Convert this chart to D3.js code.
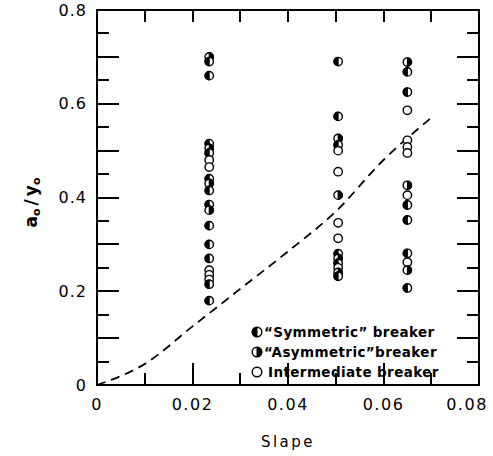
<!DOCTYPE html>
<html>
<head>
<meta charset="utf-8">
<script src="https://cdn.jsdelivr.net/npm/d3@7"></script>
<style>
  html, body { margin: 0; padding: 0; background: #fff; }
  #wrap { position: relative; width: 493px; height: 456px; }
  svg { display: block; position: absolute; left: 0; top: 0; }
  .hline, .vline, .box { position: absolute; background: #000; }
  .box { background: transparent; border: 2px solid #000; box-sizing: border-box; }
  text { font-family: "DejaVu Sans", sans-serif; fill: #000; }
</style>
</head>
<body>
<div id="wrap"><svg id="chart" width="493" height="456"></svg></div>
<script>
// Breaker observations at three beach slopes
const slopes = [0.0235, 0.0505, 0.065];

const slope1Values = [0.700, 0.690, 0.660, 0.515, 0.505, 0.495, 0.480, 0.465, 0.440, 0.430, 0.415,
                      0.385, 0.373, 0.340, 0.300, 0.270, 0.245, 0.235, 0.225, 0.215, 0.180];
const slope1Types  = ["A", "S", "S", "S", "A", "S", "O", "O", "S", "A", "S",
                      "S", "A", "S", "S", "S", "O", "O", "O", "S", "S"];

const slope2Values = [0.690, 0.573, 0.526, 0.512, 0.500, 0.455, 0.405, 0.346, 0.313,
                      0.280, 0.270, 0.260, 0.250, 0.240, 0.232];
const slope2Types  = ["S", "S", "A", "S", "O", "O", "A", "O", "O",
                      "S", "A", "S", "O", "A", "S"];

const slope3Values = [0.689, 0.668, 0.625, 0.586, 0.522, 0.508, 0.495, 0.426, 0.405,
                      0.384, 0.352, 0.281, 0.262, 0.245, 0.207];
const slope3Types  = ["A", "S", "S", "O", "O", "O", "O", "A", "O",
                      "S", "S", "S", "O", "A", "S"];

// Dividing curve (dashed)
const curveX = [0, 0.01, 0.02, 0.03, 0.04, 0.05, 0.06, 0.07];
const curveY = [0, 0.045, 0.125, 0.205, 0.285, 0.37, 0.48, 0.57];

// Axis labels and ticks
const xLabelTicks = [0, 0.02, 0.04, 0.06, 0.08];
const yLabelTicks = [0, 0.2, 0.4, 0.6, 0.8];
const xMarkTicks = [0.01, 0.02, 0.03, 0.04, 0.05, 0.06, 0.07];
const yMarkTicks = [0.05, 0.1, 0.15, 0.2, 0.25, 0.3, 0.35, 0.4, 0.45, 0.5, 0.55, 0.6, 0.65, 0.7, 0.75];

const legendLabels = ["\u201CSymmetric\u201D breaker", "\u201CAsymmetric\u201Dbreaker", "Intermediate breaker"];
const legendTypes = ["S", "A", "O"];

const svg = d3.select("#chart");
const wrap = d3.select("#wrap");
const W = 493;
const plotLeft = 97, plotRight = 479, plotTop = 10, plotBottom = 385;

const x = d3.scaleLinear().domain([0, 0.08]).range([plotLeft, plotRight]);
const y = d3.scaleLinear().domain([0, 0.8]).range([plotBottom, plotTop]);

const LONG = 22, SHORT = 12;
const isLongY = v => Math.round(v * 100) % 10 === 0;
const isLongX = v => Math.round(v * 100) % 2 === 0;

// Frame (HTML box laid under the SVG)
wrap.insert("div", "svg").attr("class", "box")
  .style("left", (plotLeft - 1) + "px").style("top", (plotTop - 1) + "px")
  .style("width", (plotRight - plotLeft + 2) + "px").style("height", (plotBottom - plotTop + 2) + "px");

// Inward tick marks on all four sides
yMarkTicks.forEach(d => {
  const len = isLongY(d) ? LONG : SHORT;
  const ty = Math.round(y(d)) - 1;
  wrap.insert("div", "svg").attr("class", "hline")
    .style("left", plotLeft + "px").style("top", ty + "px")
    .style("width", len + "px").style("height", "2px");
  wrap.insert("div", "svg").attr("class", "hline")
    .style("left", (plotRight - len) + "px").style("top", ty + "px")
    .style("width", len + "px").style("height", "2px");
});
xMarkTicks.forEach(d => {
  const len = isLongX(d) ? LONG : SHORT;
  const tx = Math.round(x(d)) - 1;
  wrap.insert("div", "svg").attr("class", "vline")
    .style("left", tx + "px").style("top", (plotBottom - len) + "px")
    .style("width", "2px").style("height", len + "px");
  wrap.insert("div", "svg").attr("class", "vline")
    .style("left", tx + "px").style("top", plotTop + "px")
    .style("width", "2px").style("height", SHORT + "px");
});

// Tick labels
const fmt = v => v === 0 ? "0" : d3.format(".2f")(v);
const yAxisLabels = svg.append("g").attr("transform", `translate(${plotLeft},0)`)
  .call(d3.axisLeft(y).tickValues(yLabelTicks)
    .tickFormat(v => v === 0 ? "0" : d3.format(".1f")(v)).tickSize(0).tickPadding(10));
yAxisLabels.select(".domain").remove();
yAxisLabels.selectAll("text")
  .attr("font-size", 16).attr("font-family", "DejaVu Sans, sans-serif")
  .attr("letter-spacing", 1).attr("fill", "#000");

const xAxisLabels = svg.append("g").attr("transform", `translate(0,${plotBottom})`)
  .call(d3.axisBottom(x).tickValues(xLabelTicks).tickFormat(fmt).tickSize(0).tickPadding(14));
xAxisLabels.select(".domain").remove();
xAxisLabels.selectAll("text")
  .attr("font-size", 16).attr("font-family", "DejaVu Sans, sans-serif")
  .attr("letter-spacing", 1.5).attr("fill", "#000");
// keep the last label inside the page
xAxisLabels.selectAll(".tick").attr("transform", d => `translate(${Math.min(x(d), W - 26)},0)`);

// Axis titles
svg.append("text")
  .attr("x", (plotLeft + plotRight) / 2).attr("y", 447)
  .attr("text-anchor", "middle")
  .attr("font-size", 15).attr("letter-spacing", 2.5)
  .text("Slape");

const yTitle = svg.append("text")
  .attr("transform", `translate(37,${(plotTop + plotBottom) / 2 + 5}) rotate(-90)`)
  .attr("text-anchor", "middle")
  .attr("font-size", 17).attr("font-weight", 600);
yTitle.append("tspan").text("a");
yTitle.append("tspan").attr("font-size", 11).attr("dy", 3).text("o");
yTitle.append("tspan").attr("dy", -3).attr("dx", 3).text("/");
yTitle.append("tspan").attr("dx", 3).text("y");
yTitle.append("tspan").attr("font-size", 11).attr("dy", 3).text("o");

// Dashed dividing curve
const curve = curveX.map((v, i) => [v, curveY[i]]);
svg.append("path")
  .datum(curve)
  .attr("fill", "none").attr("stroke", "#000").attr("stroke-width", 1.8)
  .attr("stroke-dasharray", "9,6")
  .attr("d", d3.line().x(d => x(d[0])).y(d => y(d[1])).curve(d3.curveMonotoneX));

// Marker drawing: open circle, left-filled (symmetric), right-filled (asymmetric)
function drawMarker(g, cx, cy, type, r) {
  g.append("circle").attr("cx", cx).attr("cy", cy).attr("r", r)
    .attr("fill", "#fff").attr("stroke", "#000").attr("stroke-width", 1.4);
  if (type === "S" || type === "A") {
    const sweep = type === "S" ? 0 : 1;
    g.append("path")
      .attr("d", `M${cx},${cy - r} A${r},${r} 0 0 ${sweep} ${cx},${cy + r} Z`)
      .attr("fill", "#000").attr("stroke", "#000").attr("stroke-width", 1);
  }
}

const columns = [
  { slope: slopes[0], values: slope1Values, types: slope1Types },
  { slope: slopes[1], values: slope2Values, types: slope2Types },
  { slope: slopes[2], values: slope3Values, types: slope3Types }
];

const pts = svg.append("g");
columns.forEach(col => {
  col.values.forEach((v, i) => drawMarker(pts, x(col.slope), y(v), col.types[i], 4.2));
});

// Legend
const legend = svg.append("g");
legendLabels.forEach((label, i) => {
  const cy = 332 + i * 20;
  drawMarker(legend, 257, cy, legendTypes[i], 4.8);
  legend.append("text")
    .attr("x", legendTypes[i] === "O" ? 268 : 264).attr("y", cy + 5)
    .attr("font-size", 13.5).attr("font-weight", "bold").attr("letter-spacing", 0.4)
    .text(label);
});
</script>
</body>
</html>
